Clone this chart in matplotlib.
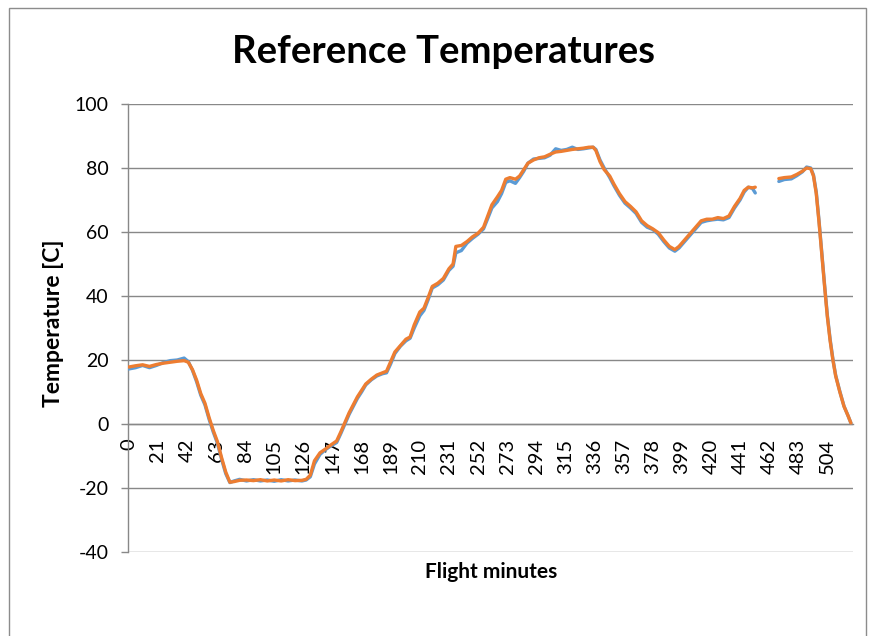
import matplotlib
matplotlib.use('Agg')
import matplotlib.pyplot as plt
import numpy as np
from matplotlib.patches import Rectangle

nan = np.nan

minutes = [0, 5, 10, 15, 20, 25, 30, 35, 40, 43, 46, 49, 52, 55, 58, 61, 64, 67, 70, 73,
           76, 80, 85, 90, 95, 100, 105, 110, 115, 120, 125, 128, 131, 134, 138, 142, 146, 150, 153, 156,
           159, 162, 165, 168, 171, 175, 179, 183, 186, 189, 192, 196, 200, 203, 206, 210, 213, 216, 219, 223,
           227, 231, 234, 236, 240, 244, 248, 252, 256, 259, 262, 266, 269, 272, 275, 279, 282, 285, 288, 292,
           296, 300, 304, 308, 312, 316, 320, 324, 328, 332, 335, 337, 340, 343, 347, 350, 354, 358, 362, 366,
           370, 374, 378, 382, 386, 390, 394, 397, 401, 405, 409, 413, 417, 421, 425, 429, 433, 437, 441, 444,
           447, 450, 452, 460, 469, 473, 478, 482, 486, 489, 492, 494, 496, 498, 500, 502, 504, 506, 508, 510,
           513, 516, 519, 521]

orange = [17.8, 18.2, 18.5, 18.0, 18.6, 19.0, 19.3, 19.6, 19.8, 19.3, 17.0, 13.7, 9.5, 6.5, 2.0, -2.0, -5.5, -10.5, -15.0, -18.2,
          -18.0, -17.6, -17.5, -17.7, -17.4, -17.8, -17.5, -17.8, -17.4, -17.7, -17.6, -17.3, -16.0, -11.5, -9.0, -7.8, -6.5, -5.3, -2.5, 0.5,
          3.5, 6.0, 8.5, 10.5, 12.5, 14.0, 15.3, 16.0, 16.5, 19.5, 22.5, 24.5, 26.5, 27.2, 31.0, 35.0, 36.2, 39.5, 43.0, 44.0,
          45.5, 48.5, 50.0, 55.5, 55.8, 57.0, 58.5, 59.6, 61.5, 65.0, 68.5, 71.0, 73.0, 76.5, 77.0, 76.5, 77.5, 79.5, 81.5, 82.5,
          83.2, 83.5, 84.3, 85.0, 85.2, 85.5, 85.8, 86.0, 86.2, 86.5, 86.5, 85.5, 82.0, 79.5, 77.5, 75.0, 72.0, 69.5, 68.0, 66.3,
          63.5, 62.0, 61.0, 59.8, 57.5, 55.5, 54.5, 55.5, 57.5, 59.5, 61.5, 63.5, 64.0, 64.0, 64.5, 64.2, 65.0, 68.0, 70.5, 73.0,
          74.0, 73.8, 74.0, nan, 76.7, 77.0, 77.2, 78.0, 79.0, 80.0, 79.8, 77.5, 72.0, 63.0, 53.0, 43.0, 33.5, 26.0, 20.0, 15.0,
          10.0, 5.5, 2.5, 0.3]

blue = [17.2, 17.6, 18.3, 17.6, 18.3, 19.2, 19.8, 20.0, 20.6, 19.5, 16.8, 13.2, 9.0, 6.0, 1.5, -2.5, -6.0, -11.0, -15.5, -18.3,
        -17.8, -17.3, -17.8, -17.4, -17.8, -17.5, -17.9, -17.4, -17.8, -17.5, -17.8, -17.5, -16.5, -12.5, -9.5, -8.0, -6.8, -5.8, -3.0, 0.0,
        3.0, 5.5, 8.0, 10.0, 12.2, 13.8, 15.0, 15.7, 16.0, 18.8, 22.0, 24.3, 26.0, 26.8, 30.0, 33.8, 35.5, 38.8, 42.5, 43.5,
        45.0, 48.0, 49.3, 53.5, 54.2, 56.5, 58.0, 59.3, 61.0, 64.2, 67.5, 69.5, 72.0, 75.5, 76.0, 75.2, 77.0, 79.0, 81.5, 82.8,
        83.0, 83.2, 84.0, 86.0, 85.5, 85.8, 86.5, 85.8, 86.0, 86.3, 86.5, 85.8, 82.5, 80.0, 77.0, 74.5, 71.5, 69.0, 67.5, 65.8,
        63.0, 61.5, 60.8, 59.3, 57.0, 55.0, 54.0, 55.0, 57.0, 59.0, 61.0, 63.0, 63.5, 63.8, 64.0, 63.8, 64.5, 67.5, 70.0, 72.5,
        74.0, 73.6, 72.2, nan, 75.8, 76.4, 76.6, 77.6, 78.8, 80.3, 80.0, 77.8, 72.5, 63.5, 53.5, 43.5, 34.0, 26.5, 20.3, 15.2,
        10.2, 5.6, 2.5, 0.3]

xtick_values = list(range(0, 505, 21))
xtick_labels = [str(v) for v in xtick_values]
ytick_values = [-40, -20, 0, 20, 40, 60, 80, 100]

title_text = "Reference Temperatures"
xlabel_text = "Flight minutes"
ylabel_text = "Temperature [C]"

W, H = 869, 636
plt.rcParams['font.family'] = ['Lato', 'DejaVu Sans']

fig = plt.figure(figsize=(W / 100, H / 100), dpi=100)
fig.patch.set_facecolor('white')
ax = fig.add_axes([128 / W, 1 - 552 / H, (853 - 128) / W, (552 - 104) / H])

grid_col = '#888888'
ax.plot(minutes, blue, color='#5B9BD5', lw=2.4, solid_joinstyle='round', solid_capstyle='round', zorder=3)
ax.plot(minutes, orange, color='#ED7D31', lw=2.4, solid_joinstyle='round', solid_capstyle='round', zorder=4)

ax.set_xlim(-0.5, 522.5)
ax.set_ylim(-40, 100)
ax.set_yticks(ytick_values)
ax.set_yticklabels([str(v) for v in ytick_values])
ax.set_xticks(xtick_values)
ax.set_xticklabels(xtick_labels)
ax.yaxis.grid(True, color=grid_col, lw=1)
ax.set_axisbelow(True)

for s in ['top', 'right']:
    ax.spines[s].set_visible(False)
ax.spines['bottom'].set_position(('data', 0))
ax.spines['bottom'].set_color(grid_col)
ax.spines['left'].set_color(grid_col)
ax.spines['bottom'].set_linewidth(1)
ax.spines['left'].set_linewidth(1)

ax.tick_params(axis='x', length=0, pad=10.5, labelsize=14.5, labelcolor='black', labelrotation=90)
ax.tick_params(axis='y', length=5, width=1, color=grid_col, pad=9, labelsize=14, labelcolor='black')

fig.text(443 / W, 1 - 52 / H, title_text, ha='center', va='center', fontsize=27.5, fontweight='bold')
fig.text(491.5 / W, 1 - 572 / H, xlabel_text, ha='center', va='center', fontsize=15, fontweight='bold')
fig.text(54 / W, 1 - 323 / H, ylabel_text, ha='center', va='center', fontsize=16.5, fontweight='bold', rotation=90)

fig.add_artist(Rectangle((9 / W, -0.05), (866 - 9) / W, 1 - 8 / H + 0.05, transform=fig.transFigure,
                         fill=False, ec='#8c8c8c', lw=1))

fig.savefig('out.png', dpi=100)
